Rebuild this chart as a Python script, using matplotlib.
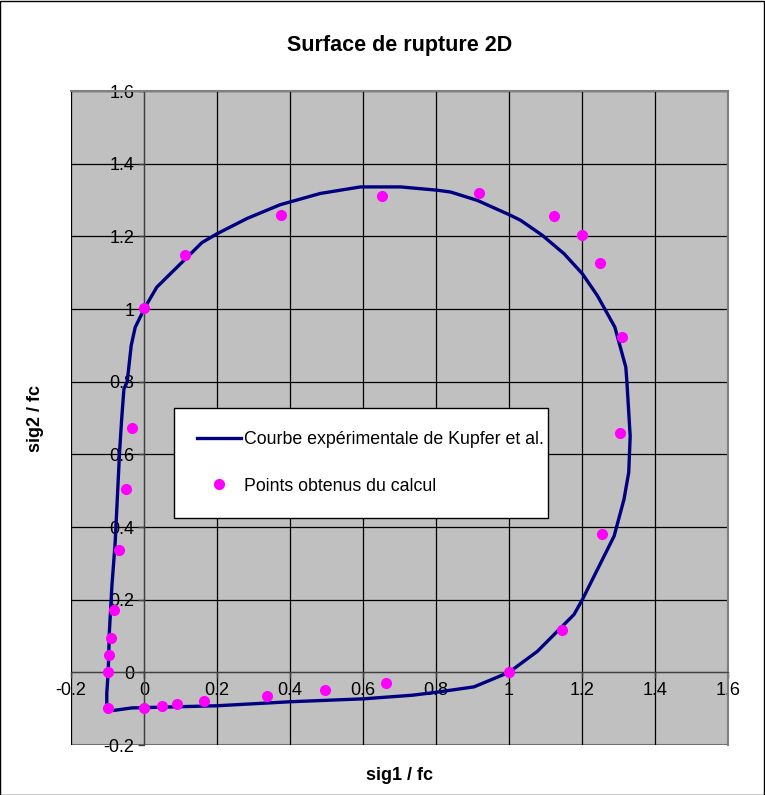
import matplotlib
matplotlib.use("Agg")
import matplotlib.pyplot as plt
from matplotlib.patches import Rectangle
import numpy as np

plt.rcParams['font.family'] = ['Liberation Sans', 'DejaVu Sans']

# Experimental curve (Kupfer et al.)
curve_x = [-0.102, -0.084, -0.034, 0.2, 0.4, 0.6, 0.735, 0.8, 0.904, 1.0, 1.078, 1.178, 1.201,
           1.288, 1.315, 1.328, 1.332, 1.323, 1.32, 1.29, 1.242, 1.201, 1.151, 1.091, 1.032, 1.004,
           0.913, 0.84, 0.803, 0.703, 0.593, 0.483, 0.373, 0.282, 0.2, 0.159, 0.035, 0.003,
           -0.024, -0.035, -0.046, -0.055, -0.061, -0.067, -0.079, -0.088, -0.095, -0.098,
           -0.102, -0.102]
curve_y = [-0.098, -0.105, -0.098, -0.092, -0.081, -0.073, -0.063, -0.055, -0.040, 0.0, 0.058, 0.159, 0.2,
           0.375, 0.476, 0.55, 0.65, 0.8, 0.84, 0.95, 1.037, 1.097, 1.152, 1.203, 1.244, 1.258,
           1.299, 1.322, 1.327, 1.336, 1.336, 1.318, 1.287, 1.249, 1.207, 1.183, 1.060, 1.005,
           0.950, 0.9, 0.8, 0.78, 0.70, 0.605, 0.357, 0.237, 0.109, 0.0,
           -0.057, -0.098]

# Computed points
pts_x = [0.0, 0.113, 0.375, 0.652, 0.919, 1.123, 1.201, 1.249, 1.309, 1.303, 1.254, 1.146, 1.0,
         0.664, 0.497, 0.337, 0.165, 0.090, 0.050, 0.0, -0.100, -0.099, -0.096, -0.091, -0.082,
         -0.068, -0.049, -0.032]
pts_y = [1.004, 1.150, 1.260, 1.310, 1.320, 1.255, 1.205, 1.127, 0.922, 0.658, 0.380, 0.116, 0.0,
         -0.029, -0.048, -0.064, -0.080, -0.087, -0.092, -0.098, -0.097, 0.002, 0.048, 0.094, 0.171,
         0.336, 0.504, 0.672]

ticks = [-0.2, 0, 0.2, 0.4, 0.6, 0.8, 1, 1.2, 1.4, 1.6]
tick_labels = ['-0.2', '0', '0.2', '0.4', '0.6', '0.8', '1', '1.2', '1.4', '1.6']

fig = plt.figure(figsize=(7.65, 7.95), dpi=100)
fig.patch.set_facecolor('white')
fig.patches.append(Rectangle((0.0005, 0.0005), 0.998, 0.998, transform=fig.transFigure,
                             fill=False, edgecolor='black', linewidth=1.0))

ax = fig.add_axes([71/765, 1 - 745/795, (728-71)/765, (745-91)/795])
ax.set_facecolor('#C0C0C0')
ax.set_xlim(-0.2, 1.6)
ax.set_ylim(-0.2, 1.6)

ax.set_xticks(ticks)
ax.set_xticklabels(tick_labels)
ax.set_yticks(ticks)
ax.set_yticklabels(tick_labels)
ax.grid(True, color='black', linewidth=0.9)
ax.set_axisbelow(True)

for s in ['top', 'right']:
    ax.spines[s].set_color('#808080')
    ax.spines[s].set_linewidth(1.5)
ax.spines['left'].set_position(('data', 0))
ax.spines['bottom'].set_position(('data', 0))
ax.spines['left'].set_color('#404040')
ax.spines['bottom'].set_color('#404040')
ax.add_patch(Rectangle((0, 0), 1, 1, transform=ax.transAxes, fill=False,
                       edgecolor='#808080', linewidth=1.5, zorder=0.5))

ax.tick_params(axis='both', direction='out', length=4, width=1, color='#404040',
               labelsize=13, pad=3)

l1, = ax.plot(curve_x, curve_y, color='#000080', linewidth=2.4, zorder=3,
              label='Courbe expérimentale de Kupfer et al.')
l2, = ax.plot(pts_x, pts_y, linestyle='none', marker='o', markersize=7,
              color='#FF00FF', markeredgecolor='#FF00FF', zorder=4,
              label='Points obtenus du calcul')

leg = ax.legend(loc='upper left', bbox_to_anchor=(0.157, 0.346, 0.569, 0.169), mode='expand',
                fontsize=12.8, frameon=True, fancybox=False, framealpha=1, edgecolor='black',
                borderpad=1.3, labelspacing=1.65, handlelength=2.45, handletextpad=0.2,
                borderaxespad=0)
leg.get_frame().set_linewidth(1.0)

fig.text(399.5/765, 1 - 45/795, 'Surface de rupture 2D', ha='center', va='center',
         fontsize=15.5, fontweight='bold')
fig.text(399.5/765, 1 - 775/795, 'sig1 / fc', ha='center', va='center',
         fontsize=13, fontweight='bold')
fig.text(35/765, 1 - 418/795, 'sig2 / fc', ha='center', va='center', rotation=90,
         fontsize=13, fontweight='bold')

fig.savefig('out.png', dpi=100)
